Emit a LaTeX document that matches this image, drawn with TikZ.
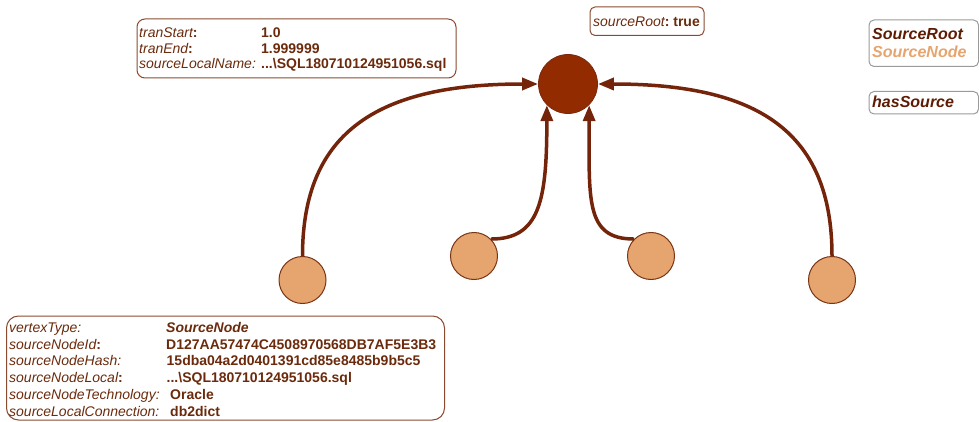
\documentclass[tikz,border=0pt]{standalone}
\usepackage{fontspec}
\setmainfont{Liberation Sans}
\usetikzlibrary{arrows.meta}
\definecolor{edgec}{HTML}{74240A}
\definecolor{rootc}{HTML}{922B00}
\definecolor{rootb}{HTML}{7A2A10}
\definecolor{leafc}{HTML}{E6A46E}
\definecolor{leafb}{HTML}{7A3414}
\definecolor{txtc}{HTML}{6B2A0C}
\definecolor{legdark}{HTML}{5E1C04}
\definecolor{boxb}{HTML}{8B4A2E}
\definecolor{legb}{HTML}{9A9A9A}
\newcommand\bcolon{{\upshape\bfseries :}}
\begin{document}
\begin{tikzpicture}[x=1pt,y=1pt,
  root/.style={circle,fill=rootc,draw=rootb,line width=0.8pt,minimum size=59pt,inner sep=0pt},
  leaf/.style={circle,fill=leafc,draw=leafb,line width=1pt,minimum size=47pt,inner sep=0pt},
  edge/.style={draw=edgec,line width=3.5pt,-{Triangle[length=16pt,width=12pt]}},
  infobox/.style={draw=boxb,line width=1pt,rounded corners=8pt},
  legbox/.style={draw=legb,line width=1pt,rounded corners=5pt},
  lab/.style={anchor=base west,inner sep=0pt,font=\fontsize{14}{16}\selectfont\itshape,text=txtc},
  val/.style={anchor=base west,inner sep=0pt,font=\fontsize{14}{16}\selectfont\bfseries,text=txtc},
  leg/.style={anchor=base west,inner sep=0pt,font=\fontsize{16}{18}\selectfont\bfseries\itshape}
]
\clip (0,0) rectangle (979,-422);
\useasboundingbox (0,0) rectangle (979,-422);

% nodes
\node[root] (root) at (568,-84) {};
\node[leaf] (n1) at (302.5,-280) {};
\node[leaf] (n2) at (474,-256) {};
\node[leaf] (n3) at (651,-256) {};
\node[leaf] (n4) at (832,-280) {};

% edges
\draw[edge] (n1.north) .. controls +(0,126) and +(-158,0) .. (root.west);
\draw[edge] (n4.north) .. controls +(0,126) and +(158,0) .. (root.east);
\draw[edge] (n2.45) .. controls +(49,0) and +(0,-95) .. (root.-135);
\draw[edge] (n3.135) .. controls +(-49,0) and +(0,-95) .. (root.-45);

% top-left info box
\draw[infobox] (137,-19) rectangle (456,-78);
\node[lab] (a1) at (139,-38) {tranStart\bcolon};
\node[val] (a1v) at (261,-38) {1.0};
\node[lab] (a2) at (139,-53.5) {tranEnd\bcolon};
\node[val] (a2v) at (261,-53.5) {1.999999};
\node[lab] (a3) at (139,-69) {sourceLocalName:};
\node[val] (a3v) at (261,-69) {...\textbackslash SQL180710124951056.sql};

% sourceRoot box
\draw[infobox,rounded corners=5pt] (590,-7) rectangle (704,-35.5);
\node[lab] (r1) at (593,-26.7) {sourceRoot\bcolon\ \textbf{\upshape true}};

% legend
\draw[legbox] (869,-20) rectangle (978.5,-66.5);
\node[leg,text=legdark] (l1) at (872,-40) {SourceRoot};
\node[leg,text=leafc] (l2) at (872,-58) {SourceNode};
\draw[legbox] (869,-91.5) rectangle (978.5,-114);
\node[leg,text=legdark] (l3) at (872,-107.7) {hasSource};

% bottom-left info box
\draw[infobox,rounded corners=12pt] (6.5,-316) rectangle (444.5,-420);
\node[lab] (b1) at (9,-332.7) {vertexType:};
\node[val] (b1v) at (166,-332.7) {\itshape SourceNode};
\node[lab] (b2) at (9,-349.2) {sourceNodeId\bcolon};
\node[val] (b2v) at (166,-349.2) {D127AA57474C4508970568DB7AF5E3B3};
\node[lab] (b3) at (9,-365.8) {sourceNodeHash:};
\node[val] (b3v) at (166.5,-365.8) {15dba04a2d0401391cd85e8485b9b5c5};
\node[lab] (b4) at (9,-382.5) {sourceNodeLocal\bcolon};
\node[val] (b4v) at (166.5,-382.5) {...\textbackslash SQL180710124951056.sql};
\node[lab] (b5) at (9,-399.2) {sourceNodeTechnology:};
\node[val] (b5v) at (170,-399.2) {Oracle};
\node[lab] (b6) at (9,-416) {sourceLocalConnection:};
\node[val] (b6v) at (170,-416) {db2dict};
\end{tikzpicture}
\end{document}
